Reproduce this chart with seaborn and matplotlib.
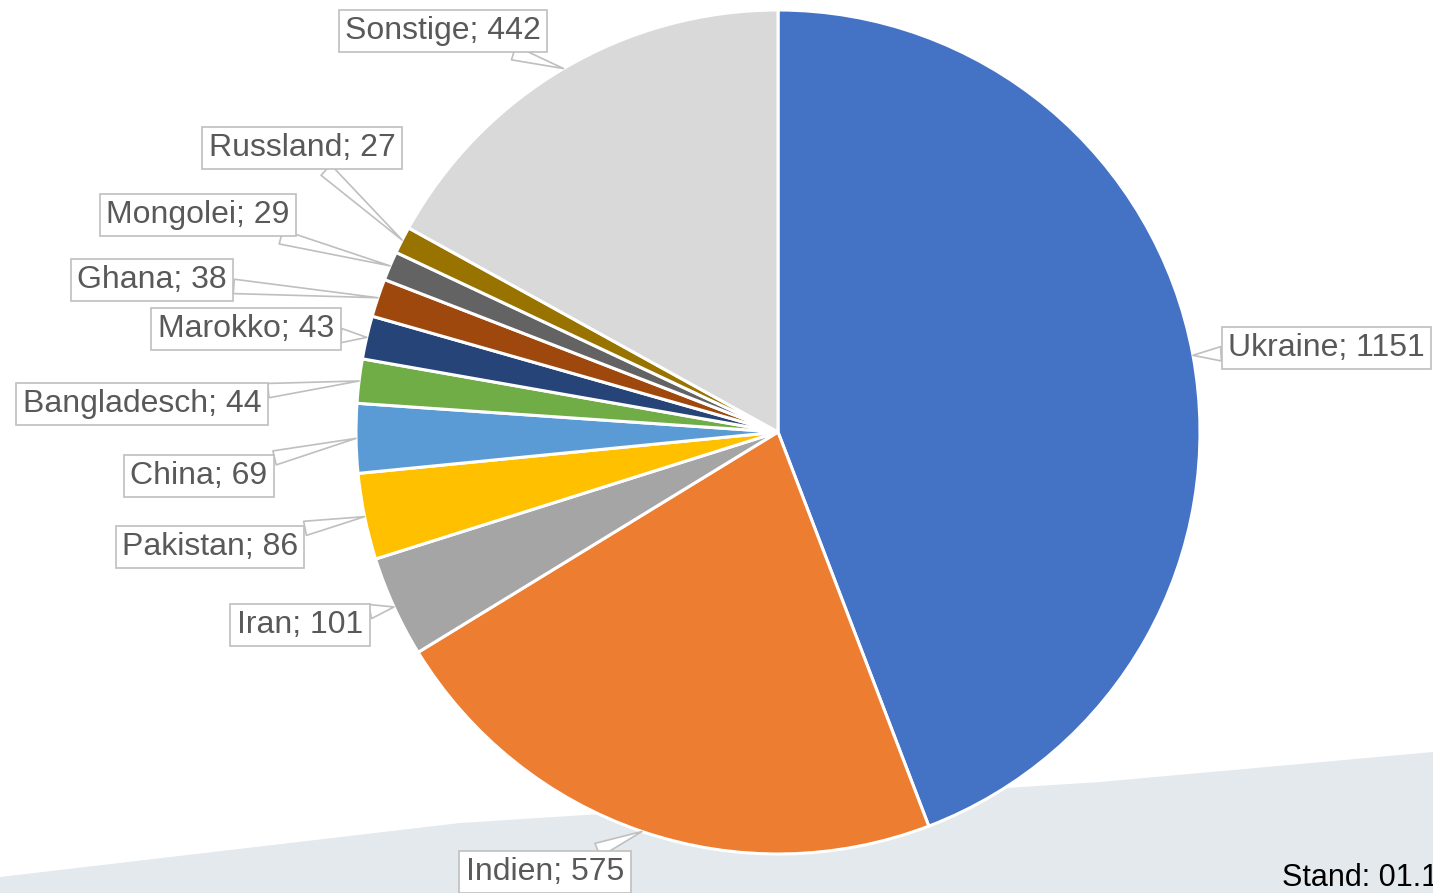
import numpy as np
import matplotlib
matplotlib.use("Agg")
import matplotlib.pyplot as plt
import seaborn as sns

# Daten
countries = ["Ukraine", "Indien", "Iran", "Pakistan", "China", "Bangladesch",
             "Marokko", "Ghana", "Mongolei", "Russland", "Sonstige"]
values = [1151, 575, 101, 86, 69, 44, 43, 38, 29, 27, 442]
colors = ["#4472C4", "#ED7D31", "#A5A5A5", "#FFC000", "#5B9BD5", "#70AD47",
          "#264478", "#9E480E", "#636363", "#997300", "#D9D9D9"]

# Position der Beschriftungen in Pixel (x, y von oben)
label_pos = [(1228, 348), (545, 872), (300, 625), (210, 547), (199, 476),
             (142, 404), (246, 329), (152, 280), (198, 215), (302, 148),
             (443, 31)]

W, H = 1433, 893
sns.set_theme(style="white")
plt.rcParams["font.family"] = ["Liberation Sans", "DejaVu Sans"]

fig = plt.figure(figsize=(W / 100, H / 100), dpi=100)
ax = fig.add_axes([0, 0, 1, 1])

# heller Hintergrundstreifen unten
bg = [(0, 877), (460, 823), (1100, 782), (1433, 752), (1433, 893), (0, 893)]
ax.add_patch(plt.Polygon([(x, H - y) for x, y in bg], closed=True,
                         fc="#E4E9EE", ec="none", zorder=0))

cx, cy, R = 778, H - 432, 422
ax.pie(values, colors=colors, startangle=90, counterclock=False,
       center=(cx, cy), radius=R, frame=True,
       wedgeprops=dict(edgecolor="white", linewidth=2.2))
ax.set_xlim(0, W)
ax.set_ylim(0, H)
ax.set_aspect("equal")
ax.axis("off")

total = sum(values)
cum = 0
for name, v, (lx, ly) in zip(countries, values, label_pos):
    mid = 90 - (cum + v / 2) / total * 360
    cum += v
    tip = (cx + R * np.cos(np.radians(mid)), cy + R * np.sin(np.radians(mid)))
    ha = "left" if name == "Ukraine" else "center"
    ax.annotate(f"{name}; {v}", xy=tip, xytext=(lx, H - ly),
                ha=ha, va="center", fontsize=23, color="#595959",
                annotation_clip=False, zorder=5,
                bbox=dict(boxstyle="square,pad=0.2", fc="white",
                          ec="#BFBFBF", lw=1.2),
                arrowprops=dict(arrowstyle="wedge,tail_width=0.45,shrink_factor=0.5",
                                fc="white", ec="#BFBFBF", lw=1.2,
                                shrinkA=0, shrinkB=0))

ax.text(1282, H - 886, "Stand: 01.10.2023", fontsize=22, color="black",
        ha="left", va="baseline")

fig.savefig("out.png", dpi=100)
